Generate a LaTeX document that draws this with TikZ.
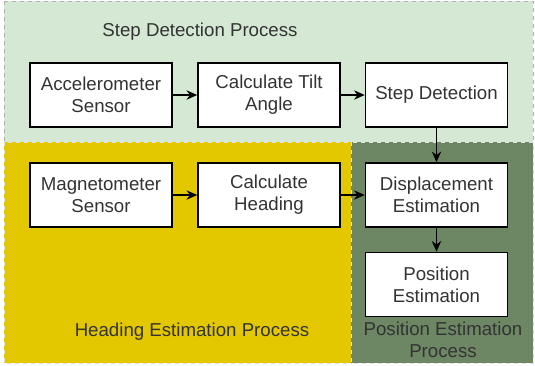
\documentclass[tikz,border=0pt]{standalone}
\usepackage{fontspec}
\setmainfont{Liberation Sans}
\usepackage{tikz}
\usetikzlibrary{arrows.meta,positioning}

\definecolor{stepgreen}{HTML}{D5E8D4}
\definecolor{headyellow}{HTML}{E3C800}
\definecolor{posgreen}{HTML}{6D8764}

\begin{document}
\begin{tikzpicture}
		[
			x=0.75pt, y=-0.75pt,
			font=\fontsize{14}{16.5}\selectfont,
			align=center,
			block/.style={draw, line width=1.2pt, fill=white, text=black!80,
				minimum width=106.5pt, minimum height=48pt, inner sep=2pt},
			region/.style={dashed, line width=0.6pt},
			title/.style={draw=none, fill=none, text=black!80},
			arrow/.style={-{Stealth[length=8pt,width=7pt]}, line width=1.1pt}
		]

		\useasboundingbox (0,0) rectangle (535,365);

		% process regions
		\filldraw[region, fill=stepgreen, draw=gray!60]		(4,1) rectangle (533,142);
		\filldraw[region, fill=headyellow, draw=white!75!gray]	(4,142) rectangle (351,363);
		\filldraw[region, fill=posgreen, draw=white!75!gray]	(351,142) rectangle (533,363);

		% region titles
		\node[title] (stepT)	at ( 200.0,  32.0 ) {Step Detection Process};
		\node[title] (headT)	at ( 192.0, 332.0 ) {Heading Estimation Process};
		\node[title] (posT)	at ( 443.0, 340.0 ) {Position Estimation\\Process};

		% blocks
		\node[block] (acc)	at ( 101.0,  95.0 ) {Accelerometer\\Sensor};
		\node[block] (tilt)	at ( 269.0,  95.0 ) {Calculate Tilt\\Angle};
		\node[block] (step)	at ( 436.5,  95.0 ) {Step Detection};
		\node[block] (mag)	at ( 101.0, 195.0 ) {Magnetometer\\Sensor};
		\node[block] (head)	at ( 269.0, 195.0 ) {Calculate\\Heading};
		\node[block] (disp)	at ( 436.5, 195.0 ) {Displacement\\Estimation};
		\node[block] (pos)	at ( 436.5, 284.5 ) {Position\\Estimation};

		% connections
		\foreach \from/\to in
		{acc/tilt,tilt/step,step/disp,mag/head,head/disp,disp/pos}
		\draw[arrow] (\from) -- (\to);

	\end{tikzpicture}
\end{document}
